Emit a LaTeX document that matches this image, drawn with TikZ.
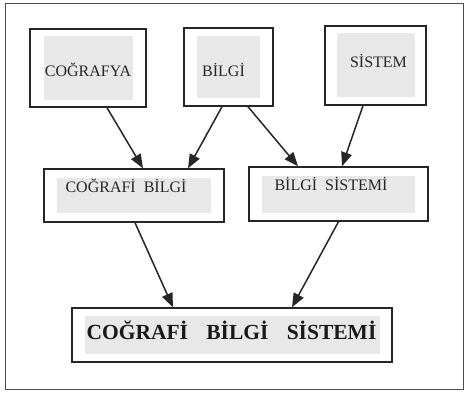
\documentclass[tikz,border=0pt]{standalone}
\usepackage{fontspec}
\setmainfont{Liberation Serif}
\usetikzlibrary{arrows.meta}
\begin{document}
\begin{tikzpicture}[x=1pt,y=-1pt,
    box/.style={draw=black!85, line width=1.4pt, inner sep=0pt},
    shade/.style={fill=black!9, inner sep=0pt},
    word/.style={inner sep=0pt, text=black!85, font=\fontsize{16}{18}\selectfont},
    bigword/.style={inner sep=0pt, text=black!90, font=\fontsize{21.5}{24}\selectfont\bfseries},
    link/.style={line width=1.5pt, draw=black!85, -{Triangle[length=14pt,width=11pt]}}]
  \useasboundingbox (0,0) rectangle (465,393);
  \draw[black!70, line width=1pt] (5,4) rectangle (463,389);
  % top row
  \node[box, minimum width=116pt, minimum height=78pt] (cog) at (88,68) {};
  \node[shade, minimum width=89pt, minimum height=64pt] at (cog) {};
  \node[word] (cogw) at (88,70) {COĞRAFYA};
  \node[box, minimum width=89pt, minimum height=78pt] (bil) at (228.5,67) {};
  \node[shade, minimum width=63pt, minimum height=62pt] at (bil) {};
  \node[word] (bilw) at (223.5,70) {BİLGİ};
  \node[box, minimum width=101pt, minimum height=79pt] (sis) at (375.5,65.5) {};
  \node[shade, minimum width=78pt, minimum height=64pt] at (sis) {};
  \node[word] (sisw) at (378.5,61) {SİSTEM};
  % middle row
  \node[box, minimum width=180pt, minimum height=53pt] (cb) at (134,195.5) {};
  \node[shade, minimum width=154pt, minimum height=35pt] at (cb) {};
  \node[word] (cbw) at (126,186) {COĞRAFİ\enspace BİLGİ};
  \node[box, minimum width=179pt, minimum height=54pt] (bs) at (338.5,194) {};
  \node[shade, minimum width=153pt, minimum height=37pt] at (bs) {};
  \node[word] (bsw) at (331,184) {BİLGİ\enspace SİSTEMİ};
  % bottom
  \node[box, minimum width=320pt, minimum height=54pt] (cbs) at (232,335) {};
  \node[shade, minimum width=295pt, minimum height=38pt] at (cbs) {};
  \node[bigword] (cbsw) at (231.5,330) {COĞRAFİ\hspace{.6em} BİLGİ\hspace{.6em} SİSTEMİ};
  % arrows
  \draw[link] ([xshift=19pt]cog.south) -- ([xshift=9pt]cb.north);
  \draw[link] ([xshift=-6.5pt]bil.south) -- ([xshift=54pt]cb.north);
  \draw[link] ([xshift=19.5pt]bil.south) -- ([xshift=-40.5pt]bs.north);
  \draw[link] ([xshift=-12.5pt]sis.south) -- ([xshift=3.5pt]bs.north);
  \draw[link] ([xshift=1pt]cb.south) -- ([xshift=-59pt]cbs.north);
  \draw[link] (bs.south) -- ([xshift=60pt]cbs.north);
\end{tikzpicture}
\end{document}
